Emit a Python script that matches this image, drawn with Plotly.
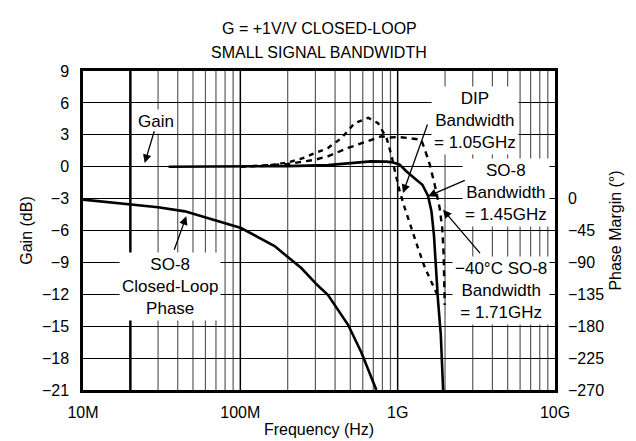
import numpy as np
import plotly.graph_objects as go

# ---------------- data ----------------
freq_so8 = [35e6, 100e6, 200e6, 360e6, 500e6, 676e6, 850e6, 935e6, 1.03e9, 1.13e9,
            1.285e9, 1.436e9, 1.56e9, 1.64e9, 1.70e9, 1.745e9, 1.805e9, 1.88e9, 1.945e9]
gain_so8 = [0, 0, 0.05, 0.15, 0.35, 0.5, 0.48, 0.4, 0.2, -0.4,
            -1.1, -1.7, -2.75, -4.2, -6.4, -9.5, -12.6, -15.8, -21]

freq_dip = [100e6, 150e6, 200e6, 250e6, 300e6, 360e6, 440e6, 533e6, 650e6, 750e6,
            850e6, 912e6, 960e6, 1.03e9, 1.11e9, 1.22e9, 1.35e9, 1.49e9, 1.64e9, 1.78e9]
gain_dip = [0, 0.1, 0.4, 0.8, 1.3, 1.75, 2.7, 4.1, 4.6, 4.1,
            2.7, 1.1, -0.4, -2.3, -3.9, -5.8, -7.7, -9.5, -10.8, -12.0]

freq_cold = [100e6, 200e6, 300e6, 360e6, 484e6, 650e6, 787e6, 900e6, 1.0e9, 1.164e9,
             1.35e9, 1.41e9, 1.49e9, 1.6e9, 1.72e9, 1.85e9, 1.92e9, 1.96e9, 1.99e9]
gain_cold = [0, 0.25, 0.66, 0.98, 1.76, 2.4, 2.86, 2.75, 2.8, 2.7,
             2.6, 2.54, 1.6, 0.2, -1.7, -3.9, -5.8, -8.3, -13.0]

freq_phase = [10e6, 14.4e6, 20.3e6, 30e6, 44.4e6, 62.4e6, 101e6, 165e6, 244e6, 312e6,
              360e6, 484e6, 588e6, 732e6]
phase_so8 = [-1.5, -5.3, -8.6, -12.3, -18, -27.3, -41.5, -67, -98, -123,
             -135.6, -178, -217, -270]

x_tickvals = [1e7, 1e8, 1e9, 1e10]
x_ticktext = ["10M", "100M", "1G", "10G"]
gain_ticks = [9, 6, 3, 0, -3, -6, -9, -12, -15, -18, -21]
phase_ticks = [0, -45, -90, -135, -180, -225, -270]


def fmt(v):
    return str(v).replace("-", "\u2212")


FONT = "Liberation Sans, Arial, Helvetica, sans-serif"

# plot-area pixel geometry
PX0, PX1, PY0, PY1 = 75, 547, 63, 382


def xd(px):  # pixel -> log10 frequency
    return 7 + (px - PX0) / (PX1 - PX0) * 3


def yd(py):  # pixel -> gain dB
    return 9 - (py - PY0) / (PY1 - PY0) * 30


fig = go.Figure()

fig.add_trace(go.Scatter(x=freq_phase, y=phase_so8, yaxis="y2", mode="lines",
                         line=dict(color="black", width=2.6), showlegend=False))
fig.add_trace(go.Scatter(x=freq_so8, y=gain_so8, mode="lines",
                         line=dict(color="black", width=2.6), showlegend=False))
fig.add_trace(go.Scatter(x=freq_dip, y=gain_dip, mode="lines",
                         line=dict(color="black", width=2.4, dash="5px,5px"), showlegend=False))
fig.add_trace(go.Scatter(x=freq_cold, y=gain_cold, mode="lines",
                         line=dict(color="black", width=2.4, dash="6px,5px"), showlegend=False))

# vertical grid
shapes = []
for dec in range(7, 10):
    for m in range(1, 10):
        f = m * 10 ** dec
        xp = (np.log10(f) - 7) / 3
        if m == 1:
            if dec == 7:
                continue
            col, w = "black", 1.5
        elif m == 2 and dec == 7:
            col, w = "black", 2.5
        else:
            col, w = "#5a5a5a", 1.2
        shapes.append(dict(type="line", xref="paper", yref="paper", x0=xp, x1=xp,
                           y0=0, y1=1, line=dict(color=col, width=w), layer="below"))

annotations = []
# titles
annotations.append(dict(text="G = +1V/V CLOSED-LOOP", xref="paper", yref="paper",
                        x=0.5, y=1 + (PY0 - 21) / (PY1 - PY0), xanchor="center", yanchor="middle",
                        showarrow=False, font=dict(size=16, color="black", family=FONT)))
annotations.append(dict(text="SMALL SIGNAL BANDWIDTH", xref="paper", yref="paper",
                        x=0.5, y=1 + (PY0 - 45) / (PY1 - PY0), xanchor="center", yanchor="middle",
                        showarrow=False, font=dict(size=16, color="black", family=FONT)))

labels = [
    ("Gain", 148, 113),
    ("SO-8<br>Closed-Loop<br>Phase", 162, 278),
    ("DIP<br>Bandwidth<br>= 1.05GHz", 467, 112),
    ("SO-8<br>Bandwidth<br>= 1.45GHz", 498, 184),
    ("\u221240\u00b0C SO-8<br>Bandwidth<br>= 1.71GHz", 493, 282),
]
for t, cx, cy in labels:
    annotations.append(dict(text=t, x=xd(cx), y=yd(cy), xref="x", yref="y",
                            showarrow=False, bgcolor="white", borderpad=2,
                            font=dict(size=17, color="black", family=FONT)))

arrows = [
    ((146.7, 121.7), (136.7, 155)),
    ((165.7, 243.3), (178.3, 208.3)),
    ((420, 115), (395, 185)),
    ((458.3, 171.7), (420, 188.3)),
    ((473.3, 246.7), (435, 201.7)),
]
for (sx, sy), (tx, ty) in arrows:
    annotations.append(dict(text="", x=xd(tx), y=yd(ty), xref="x", yref="y",
                            ax=sx - tx, ay=sy - ty, showarrow=True,
                            arrowhead=2, arrowsize=1.3, arrowwidth=1.3, arrowcolor="black",
                            standoff=0, startstandoff=0))

fig.update_layout(
    width=636, height=441,
    margin=dict(l=PX0, r=636 - PX1, t=PY0, b=441 - PY1, autoexpand=False),
    paper_bgcolor="white", plot_bgcolor="white",
    font=dict(family=FONT, size=16, color="black"),
    shapes=shapes, annotations=annotations,
    xaxis=dict(type="log", range=[7, 10], tickvals=x_tickvals, ticktext=x_ticktext,
               showgrid=False, zeroline=False, showline=True, mirror=True, automargin=False,
               linecolor="black", linewidth=2.5, ticks="", ticklabelstandoff=6,
               tickfont=dict(size=16, family=FONT),
               title=dict(text="Frequency (Hz)", font=dict(size=16, family=FONT), standoff=4)),
    yaxis=dict(range=[-21, 9], tickvals=gain_ticks, ticktext=[fmt(v) for v in gain_ticks],
               showgrid=True, gridcolor="black", gridwidth=1, zeroline=False, automargin=False,
               showline=True, mirror=True, linecolor="black", linewidth=2.5, ticks="",
               ticklabelstandoff=8, tickfont=dict(size=16, family=FONT),
               title=dict(text="Gain (dB)", font=dict(size=16, family=FONT), standoff=6)),
    yaxis2=dict(range=[-270, 180], overlaying="y", side="right", automargin=False,
                tickvals=phase_ticks, ticktext=[fmt(v) for v in phase_ticks],
                showgrid=False, zeroline=False, showline=False, ticks="",
                ticklabelstandoff=12, tickfont=dict(size=16, family=FONT),
                title=dict(text="Phase Margin (\u00b0)", font=dict(size=16, family=FONT), standoff=6)),
)

fig.write_html("out.html")
